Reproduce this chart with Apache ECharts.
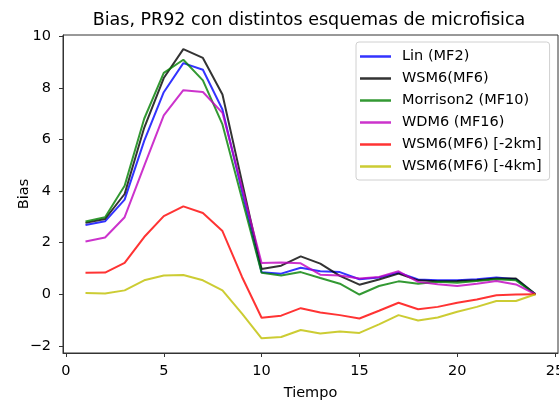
<!DOCTYPE html>
<html>
<head>
<meta charset="utf-8">
<script src="https://cdn.jsdelivr.net/npm/echarts@6/dist/echarts.min.js"></script>
<style>html,body{margin:0;padding:0;background:#fff;}#c{width:559px;height:401px;}</style>
</head>
<body>
<div id="c"></div>
<script>
const tiempo = [1,2,3,4,5,6,7,8,9,10,11,12,13,14,15,16,17,18,19,20,21,22,23,24];
const lin = [2.69,2.83,3.67,5.95,7.84,8.97,8.71,7.17,4.0,0.85,0.8,1.03,0.89,0.86,0.58,0.65,0.84,0.57,0.54,0.54,0.58,0.65,0.58,0.0];
const wsm6 = [2.77,2.92,3.89,6.46,8.39,9.51,9.17,7.75,4.36,0.98,1.11,1.47,1.19,0.71,0.37,0.57,0.8,0.54,0.5,0.51,0.54,0.61,0.61,0.0];
const morrison2 = [2.82,2.99,4.21,6.81,8.59,9.1,8.3,6.59,3.71,0.83,0.73,0.86,0.63,0.41,-0.01,0.32,0.5,0.41,0.48,0.45,0.51,0.58,0.54,0.0];
const wdm6 = [2.05,2.2,2.99,4.98,6.94,7.92,7.85,7.04,4.13,1.21,1.23,1.2,0.76,0.73,0.61,0.67,0.89,0.48,0.39,0.32,0.41,0.51,0.38,0.0];
const wsm6_2km = [0.83,0.84,1.22,2.22,3.03,3.41,3.15,2.45,0.67,-0.91,-0.83,-0.54,-0.71,-0.81,-0.94,-0.64,-0.33,-0.58,-0.49,-0.33,-0.2,-0.04,-0.01,0.0];
const wsm6_4km = [0.05,0.03,0.15,0.54,0.73,0.75,0.54,0.15,-0.75,-1.71,-1.66,-1.39,-1.52,-1.45,-1.5,-1.17,-0.81,-1.02,-0.9,-0.68,-0.49,-0.26,-0.26,0.0];
const seriesNames = ['Lin (MF2)','WSM6(MF6)','Morrison2 (MF10)','WDM6 (MF16)','WSM6(MF6) [-2km]','WSM6(MF6) [-4km]'];
const seriesData = [lin, wsm6, morrison2, wdm6, wsm6_2km, wsm6_4km];
const colors = ['#0000ff','#000000','#008000','#bf00bf','#ff0000','#bfbf00'];
const xTicks = [0,5,10,15,20,25];
const yTicks = [-2,0,2,4,6,8,10];

const FONT = 'DejaVu Sans';
const chart = echarts.init(document.getElementById('c'), null, {renderer:'canvas'});
chart.setOption({
  animation: false,
  backgroundColor: '#fff',
  title: {
    text: 'Bias, PR92 con distintos esquemas de microfisica',
    left: 309, top: 11, textAlign: 'center', padding: 0,
    textStyle: {fontFamily: FONT, fontSize: 17.5, fontWeight: 'normal', color: '#000'}
  },
  grid: {left: 63, right: 1, top: 35, bottom: 48, outerBoundsMode: 'none', containLabel: false,
    show: true, borderColor: '#333', borderWidth: 1, backgroundColor: 'transparent'},
  legend: {
    orient: 'vertical', left: 356, top: 42,
    backgroundColor: '#fff', borderColor: '#d0d0d0', borderWidth: 1, borderRadius: 3,
    padding: [6, 8, 5, 4], itemGap: 5, itemWidth: 31, itemHeight: 2.5, icon: 'rect',
    textStyle: {fontFamily: FONT, fontSize: 14.5, color: '#000', lineHeight: 17, padding: [0,0,0,6]},
    data: seriesNames
  },
  xAxis: {
    type: 'value', min: -0.15, max: 25.15,
    name: 'Tiempo', nameLocation: 'middle', nameGap: 33, nameMoveOverlap: false,
    nameTextStyle: {fontFamily: FONT, fontSize: 14.5, color: '#000'},
    axisLine: {show: true, onZero: false, lineStyle: {color: '#333', width: 1}},
    axisTick: {show: true, inside: false, length: 4, customValues: xTicks, lineStyle: {color: '#333'}},
    axisLabel: {customValues: xTicks, margin: 11, fontFamily: FONT, fontSize: 14.5, color: '#000'},
    splitLine: {show: false}
  },
  yAxis: {
    type: 'value', min: -2.28, max: 10.06,
    name: 'Bias', nameLocation: 'middle', nameGap: 31, nameRotate: 90, nameMoveOverlap: false,
    nameTextStyle: {fontFamily: FONT, fontSize: 14.5, color: '#000'},
    axisLine: {show: true, onZero: false, lineStyle: {color: '#333', width: 1}},
    axisTick: {show: true, inside: false, length: 4, customValues: yTicks, lineStyle: {color: '#333'}},
    axisLabel: {customValues: yTicks, margin: 12, fontFamily: FONT, fontSize: 14.5, color: '#000',
      formatter: v => (v < 0 ? '\u2212' + Math.abs(v) : String(v))},
    splitLine: {show: false}
  },
  series: seriesNames.map((n, i) => ({
    name: n, type: 'line', showSymbol: false, symbol: 'none',
    data: tiempo.map((t, j) => [t, seriesData[i][j]]),
    itemStyle: {color: colors[i], opacity: 0.8},
    lineStyle: {color: colors[i], width: 2, opacity: 0.8}
  }))
});
</script>
</body>
</html>
